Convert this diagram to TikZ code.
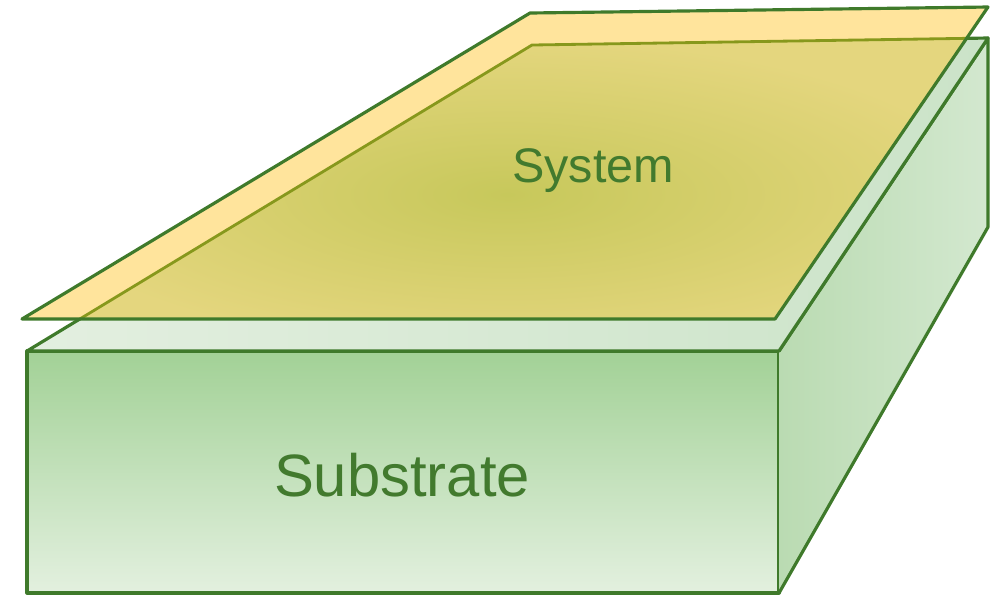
\documentclass[tikz,border=0pt]{standalone}
\usepackage{fontspec}
\setmainfont{Liberation Sans}
\definecolor{edgegreen}{RGB}{63,122,43}
\definecolor{textgreen}{RGB}{66,122,46}
\definecolor{oliveline}{RGB}{135,152,28}
\definecolor{frontTop}{RGB}{162,209,150}
\definecolor{frontBot}{RGB}{227,240,223}
\definecolor{sideLeft}{RGB}{186,219,178}
\definecolor{sideRight}{RGB}{211,232,207}
\definecolor{topLeft}{RGB}{227,239,224}
\definecolor{topRight}{RGB}{203,227,200}
\definecolor{sysFill}{RGB}{255,228,156}
\definecolor{sysInner}{RGB}{199,200,91}
\definecolor{sysOuter}{RGB}{228,214,126}

\begin{document}
\begin{tikzpicture}[x=0.01cm,y=-0.01cm,line join=round,
		edge/.style={draw=edgegreen,line width=0.9pt},
		hidden edge/.style={draw=oliveline,line width=0.8pt},
		label text/.style={text=textgreen,anchor=base,inner sep=0pt}]
		\useasboundingbox (0,0) rectangle (1001,596);
		% substrate
		\coordinate (fl) at (27,351);
		\coordinate (fr) at (779,351);
		\coordinate (bl) at (27,593);
		\coordinate (br) at (779,593);
		\coordinate (tl) at (532,45);
		\coordinate (tr) at (988,38);
		\coordinate (rb) at (988,227);
		\shade[top color=frontTop,bottom color=frontBot] (fl) rectangle (br);
		\draw[edge] (fl) rectangle (br);
		\shade[left color=sideLeft,right color=sideRight] (fr) -- (tr) -- (rb) -- (br) -- cycle;
		\draw[edge] (fr) -- (tr) -- (rb) -- (br);
		\shade[left color=topLeft,right color=topRight] (fl) -- (tl) -- (tr) -- (fr) -- cycle;
		\draw[edge] (fl) -- (tl) -- (tr) -- (fr) -- cycle;
		% system
		\coordinate (sl) at (22,319);
		\coordinate (stl) at (530,13);
		\coordinate (str) at (988,7);
		\coordinate (sr) at (775,319);
		\fill[sysFill] (sl) -- (stl) -- (str) -- (sr) -- cycle;
		\begin{scope}
			\clip (sl) -- (stl) -- (str) -- (sr) -- cycle;
			\shade[inner color=sysInner,outer color=sysOuter] (fl) -- (tl) -- (tr) -- (fr) -- cycle;
			\draw[hidden edge] (fl) -- (tl) -- (tr);
		\end{scope}
		\draw[edge] (sl) -- (stl) -- (str) -- (sr) -- cycle;
		\node[label text,font=\fontsize{13.8}{16}\selectfont] (system) at (593,182) {System};
		\node[label text,font=\fontsize{17}{20}\selectfont] (substrate) at (402,496) {Substrate};
\end{tikzpicture}
\end{document}
